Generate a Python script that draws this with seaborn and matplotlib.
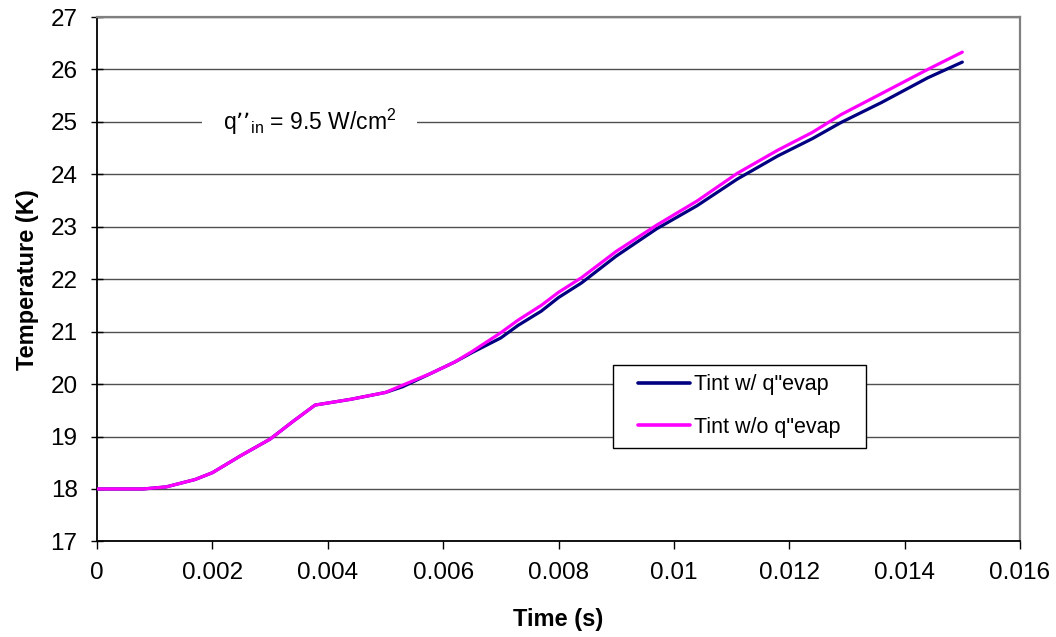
import matplotlib
matplotlib.use("Agg")
import matplotlib.pyplot as plt
from matplotlib.path import Path
import seaborn as sns
import pandas as pd

# ---- data ----
time_s = [0.0, 0.0005, 0.0008, 0.0012, 0.0017, 0.0020, 0.0025, 0.0030, 0.0034,
          0.00378, 0.0044, 0.0050, 0.0053, 0.0058, 0.0062, 0.0065, 0.0070,
          0.0073, 0.0077, 0.0080, 0.0084, 0.0090, 0.0097, 0.0104, 0.0111,
          0.0118, 0.0124, 0.0129, 0.0136, 0.0144, 0.0150]
tint_with_evap = [18.0, 18.0, 18.0, 18.04, 18.18, 18.31, 18.64, 18.95, 19.29,
                  19.60, 19.71, 19.84, 19.95, 20.21, 20.42, 20.60, 20.88,
                  21.12, 21.39, 21.65, 21.93, 22.44, 22.96, 23.40, 23.91,
                  24.35, 24.68, 24.99, 25.37, 25.84, 26.14]
tint_without_evap = [18.0, 18.0, 18.0, 18.04, 18.18, 18.31, 18.64, 18.95, 19.29,
                     19.60, 19.71, 19.84, 19.98, 20.21, 20.42, 20.62, 20.98,
                     21.22, 21.50, 21.75, 22.03, 22.53, 23.03, 23.49, 24.02,
                     24.46, 24.80, 25.14, 25.54, 26.00, 26.33]
series_labels = ["Tint w/ q\"evap", "Tint w/o q\"evap"]
series_colors = ["#000080", "#FF00FF"]
x_ticks = [0, 0.002, 0.004, 0.006, 0.008, 0.010, 0.012, 0.014, 0.016]
x_tick_labels = ["0", "0.002", "0.004", "0.006", "0.008", "0.01", "0.012", "0.014", "0.016"]
y_ticks = list(range(17, 28))

df = pd.DataFrame({"t": time_s, "a": tint_with_evap, "b": tint_without_evap})

sns.set_theme(style="white")
plt.rcParams["font.family"] = ["Liberation Sans", "DejaVu Sans"]
plt.rcParams["mathtext.default"] = "regular"
plt.rcParams["text.color"] = "black"
plt.rcParams["axes.labelcolor"] = "black"
plt.rcParams["xtick.color"] = "black"
plt.rcParams["ytick.color"] = "black"

fig = plt.figure(figsize=(10.56, 6.37), dpi=100)
ax = fig.add_axes([97 / 1056, 1 - 541.4 / 637, 923 / 1056, 524.4 / 637])

sns.lineplot(data=df, x="t", y="a", ax=ax, color=series_colors[0], lw=2.3,
             label=series_labels[0], estimator=None, zorder=3)
sns.lineplot(data=df, x="t", y="b", ax=ax, color=series_colors[1], lw=2.3,
             label=series_labels[1], estimator=None, zorder=4)

ax.set_xlim(0, 0.016)
ax.set_ylim(17, 27)
ax.set_xticks(x_ticks)
ax.set_xticklabels(x_tick_labels)
ax.set_yticks(y_ticks)
ax.set_yticklabels([str(v) for v in y_ticks])

ax.set_axisbelow(True)
ax.yaxis.grid(True, color="#505050", lw=1.0)
ax.xaxis.grid(False)

for s in ["left", "bottom"]:
    ax.spines[s].set_color("black")
    ax.spines[s].set_linewidth(1.3)
for s in ["top", "right"]:
    ax.spines[s].set_color("#808080")
    ax.spines[s].set_linewidth(1.6)

ax.tick_params(axis="x", direction="out", length=6, width=1, color="black",
               labelsize=17.5, pad=9, bottom=True, labelcolor="black")
ax.tick_params(axis="y", direction="inout", length=8, width=1, color="black",
               labelsize=17.5, pad=10, left=True, labelcolor="black")

ax.set_xlabel("Time (s)", fontsize=17, fontweight="bold", labelpad=17)
ax.set_ylabel("Temperature (K)", fontsize=17, fontweight="bold", labelpad=8)

ax.text(0.00369, 25, "q’’$_{in}$ = 9.5 W/cm$^{2}$", fontsize=16.5, ha="center",
        va="center", zorder=2, color="black",
        bbox=dict(boxstyle="square,pad=0.9", fc="white", ec="none"))

leg = ax.legend(loc="upper left", bbox_to_anchor=(0.5757, 0.337),
                fontsize=15.5, frameon=True, fancybox=False, shadow=False,
                borderpad=0.45, handlelength=2.4, handletextpad=0.2,
                labelspacing=1.0, borderaxespad=0)
leg.get_frame().set_edgecolor("black")
leg.get_frame().set_linewidth(1.0)
leg.get_frame().set_alpha(1)
for h in leg.get_lines():
    h.set_linewidth(2.6)
for t in leg.get_texts():
    t.set_color("black")


def wide_box(x0, y0, width, height, mutation_size):
    px = 0.72 * mutation_size
    x0 = x0 - px
    width = width + 2 * px
    return Path([(x0, y0), (x0 + width, y0), (x0 + width, y0 + height),
                 (x0, y0 + height), (x0, y0)], closed=True)


leg.get_frame().set_boxstyle(wide_box)

fig.savefig("out.png", dpi=100, facecolor="white")
